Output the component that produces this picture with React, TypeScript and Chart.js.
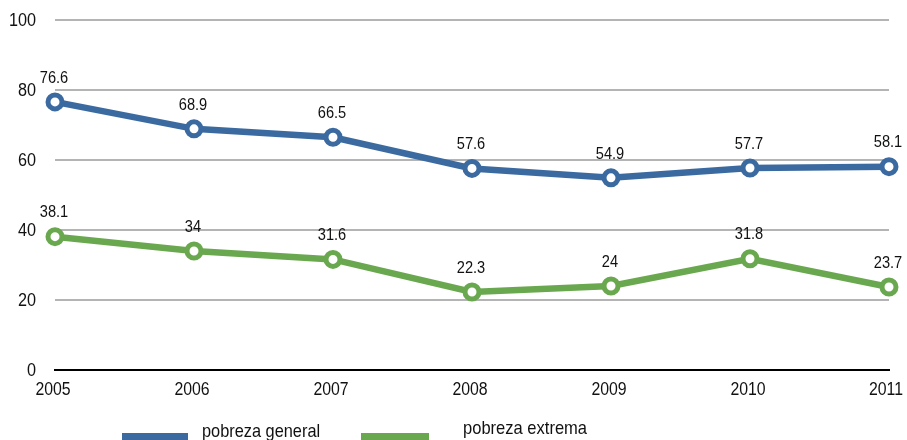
import React, { useEffect, useRef } from "react";
import { Chart, registerables } from "chart.js";

Chart.register(...registerables);

const years = ["2005", "2006", "2007", "2008", "2009", "2010", "2011"];
const pobrezaGeneral = [76.6, 68.9, 66.5, 57.6, 54.9, 57.7, 58.1];
const pobrezaExtrema = [38.1, 34, 31.6, 22.3, 24, 31.8, 23.7];
const generalLabels = ["76.6", "68.9", "66.5", "57.6", "54.9", "57.7", "58.1"];
const extremaLabels = ["38.1", "34", "31.6", "22.3", "24", "31.8", "23.7"];
const yTicks = [0, 20, 40, 60, 80, 100];

const BLUE = "#3b6aa0";
const GREEN = "#6aa84f";
const FONT = "'Liberation Sans', Arial, sans-serif";
const TEXT = "#111111";

function narrowText(ctx: any, text: string, x: number, y: number, size: number, sx: number, align: string) {
  ctx.save();
  ctx.font = `${size}px ${FONT}`;
  ctx.fillStyle = TEXT;
  ctx.textBaseline = "middle";
  ctx.textAlign = align;
  ctx.translate(x, y);
  ctx.scale(sx, 1);
  ctx.fillText(text, 0, 0);
  ctx.restore();
}

const textPlugin = {
  id: "texts",
  afterDraw(chart: any) {
    const ctx = chart.ctx;
    const xs = chart.scales.x;
    const ys = chart.scales.y;
    yTicks.forEach((v) => {
      narrowText(ctx, String(v), 36, ys.getPixelForValue(v) + 1, 18, 0.9, "right");
    });
    years.forEach((yr, i) => {
      const x = xs.getPixelForValue(i);
      narrowText(ctx, yr, Math.min(x - 2, 886), 390, 18, 0.88, "center");
    });
    const sets = [generalLabels, extremaLabels];
    chart.data.datasets.forEach((ds: any, i: number) => {
      const meta = chart.getDatasetMeta(i);
      meta.data.forEach((pt: any, j: number) => {
        narrowText(ctx, sets[i][j], pt.x - 1, pt.y - 24, 17, 0.86, "center");
      });
    });
    ctx.save();
    ctx.fillStyle = BLUE;
    ctx.fillRect(122, 433, 66, 12);
    ctx.fillStyle = GREEN;
    ctx.fillRect(361, 433, 68, 12);
    ctx.restore();
    narrowText(ctx, "pobreza general", 202, 432, 19, 0.86, "left");
    narrowText(ctx, "pobreza extrema", 463, 429, 19, 0.87, "left");
  },
};

export default function App() {
  const ref = useRef<HTMLCanvasElement>(null);
  useEffect(() => {
    if (!ref.current) return;
    const chart = new Chart(ref.current, {
      type: "line",
      data: {
        labels: years,
        datasets: [
          {
            label: "pobreza general",
            data: pobrezaGeneral,
            borderColor: BLUE,
            backgroundColor: "#ffffff",
            borderWidth: 6.5,
            pointRadius: 7,
            pointBorderWidth: 5,
            pointBackgroundColor: "#ffffff",
            pointBorderColor: BLUE,
            tension: 0,
          },
          {
            label: "pobreza extrema",
            data: pobrezaExtrema,
            borderColor: GREEN,
            backgroundColor: "#ffffff",
            borderWidth: 6.5,
            pointRadius: 7,
            pointBorderWidth: 5,
            pointBackgroundColor: "#ffffff",
            pointBorderColor: GREEN,
            tension: 0,
          },
        ],
      },
      options: {
        animation: false,
        responsive: false,
        layout: { padding: { top: 20, right: 18, left: 0, bottom: 0 } },
        plugins: { legend: { display: false }, tooltip: { enabled: false } },
        scales: {
          x: {
            offset: false,
            grid: { display: false, drawTicks: false },
            border: { display: true, color: "#000", width: 2 },
            ticks: { display: false },
            afterFit(axis: any) {
              axis.height = 70;
            },
          },
          y: {
            min: 0,
            max: 100,
            ticks: { stepSize: 20, display: false },
            grid: {
              drawTicks: false,
              color: (c: any) => (c.tick && c.tick.value === 0 ? "#000" : "#b4b4b4"),
              lineWidth: 2,
            },
            border: { display: false },
            afterFit(axis: any) {
              axis.width = 55;
            },
          },
        },
      },
      plugins: [textPlugin],
    });
    return () => chart.destroy();
  }, []);
  return (
    <div style={{ position: "fixed", left: 0, top: 0, width: 907, height: 440, background: "#fff" }}>
      <canvas ref={ref} width={907} height={440} style={{ display: "block" }} />
    </div>
  );
}
